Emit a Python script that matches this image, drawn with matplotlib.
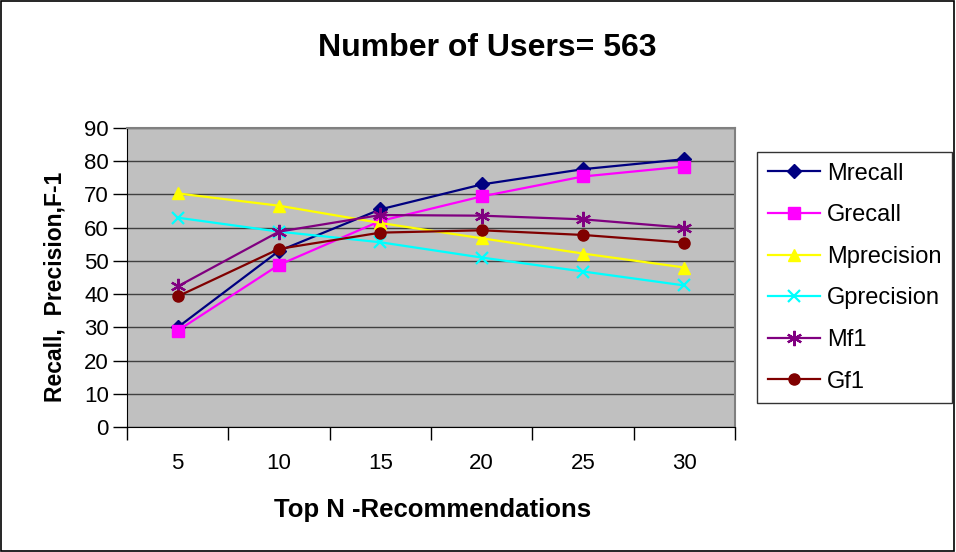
import matplotlib
matplotlib.use("Agg")
import matplotlib.pyplot as plt
from matplotlib.patches import Rectangle

plt.rcParams['font.family'] = ['Liberation Sans', 'DejaVu Sans']

top_n = ["5", "10", "15", "20", "25", "30"]
m_recall = [30, 53, 65.5, 73, 77.6, 80.6]
g_recall = [29, 48.8, 62, 69.4, 75.4, 78.4]
m_precision = [70.3, 66.6, 61.4, 56.8, 52.2, 48]
g_precision = [63, 58.8, 55.6, 51, 46.8, 42.6]
m_f1 = [42.3, 58.8, 63.8, 63.6, 62.5, 60]
g_f1 = [39.3, 53.6, 58.5, 59.2, 57.8, 55.5]

series = [
    ("Mrecall", m_recall, "#000080", "D", 7),
    ("Grecall", g_recall, "#FF00FF", "s", 8),
    ("Mprecision", m_precision, "#FFFF00", "^", 9),
    ("Gprecision", g_precision, "#00FFFF", "x", 9),
    ("Mf1", m_f1, "#800080", (6, 2, 0), 11),
    ("Gf1", g_f1, "#800000", "o", 8),
]

fig = plt.figure(figsize=(9.56, 5.52), dpi=100)
fig.patches.append(Rectangle((0.001, 0.002), 0.997, 0.996, transform=fig.transFigure,
                             fill=False, edgecolor="black", linewidth=1.2))
ax = fig.add_axes([0.1328, 0.2264, 0.6362, 0.5418])
ax.set_facecolor("#C0C0C0")

xs = list(range(len(top_n)))
for name, vals, col, mk, ms in series:
    mew = 1.6 if mk in ("x", (6, 2, 0)) else 1
    ax.plot(xs, vals, color=col, marker=mk, markersize=ms, linewidth=1.6,
            markeredgewidth=mew, label=name)

ax.set_ylim(0, 90)
ax.set_xlim(-0.5, 5.5)
ax.set_yticks(range(0, 91, 10))
ax.yaxis.grid(True, color="#404040", linewidth=1)
ax.set_axisbelow(True)
ax.set_xticks(xs)
ax.set_xticklabels(top_n)
ax.set_xticks([i - 0.5 for i in range(len(top_n) + 1)], minor=True)
ax.tick_params(axis="x", which="major", length=0, pad=19, labelsize=16)
ax.tick_params(axis="x", which="minor", length=9, width=1, direction="out")
ax.tick_params(axis="y", length=10, width=1, labelsize=16, pad=3)

ax.spines["left"].set_color("black")
ax.spines["bottom"].set_color("black")
ax.spines["top"].set_color("#808080")
ax.spines["right"].set_color("#808080")
ax.spines["top"].set_linewidth(1.5)
ax.spines["right"].set_linewidth(1.5)

ax.set_ylabel("Recall,  Precision,F-1", fontsize=16.5, fontweight="bold")
ax.yaxis.set_label_coords(-0.100, 0.468)
ax.set_xlabel("Top N -Recommendations", fontsize=18.5, fontweight="bold")
ax.xaxis.set_label_coords(0.503, -0.236)
fig.suptitle("Number of Users= 563", fontsize=23, fontweight="bold", x=0.51, y=0.94)

leg = fig.legend(loc="upper left", bbox_to_anchor=(0.792, 0.7246), fontsize=17,
                 frameon=True, fancybox=False, edgecolor="black", handlelength=2.2,
                 labelspacing=0.83, borderpad=0.45, handletextpad=0.3,
                 borderaxespad=0)
leg.get_frame().set_linewidth(1)

fig.savefig("out.png", dpi=100)
